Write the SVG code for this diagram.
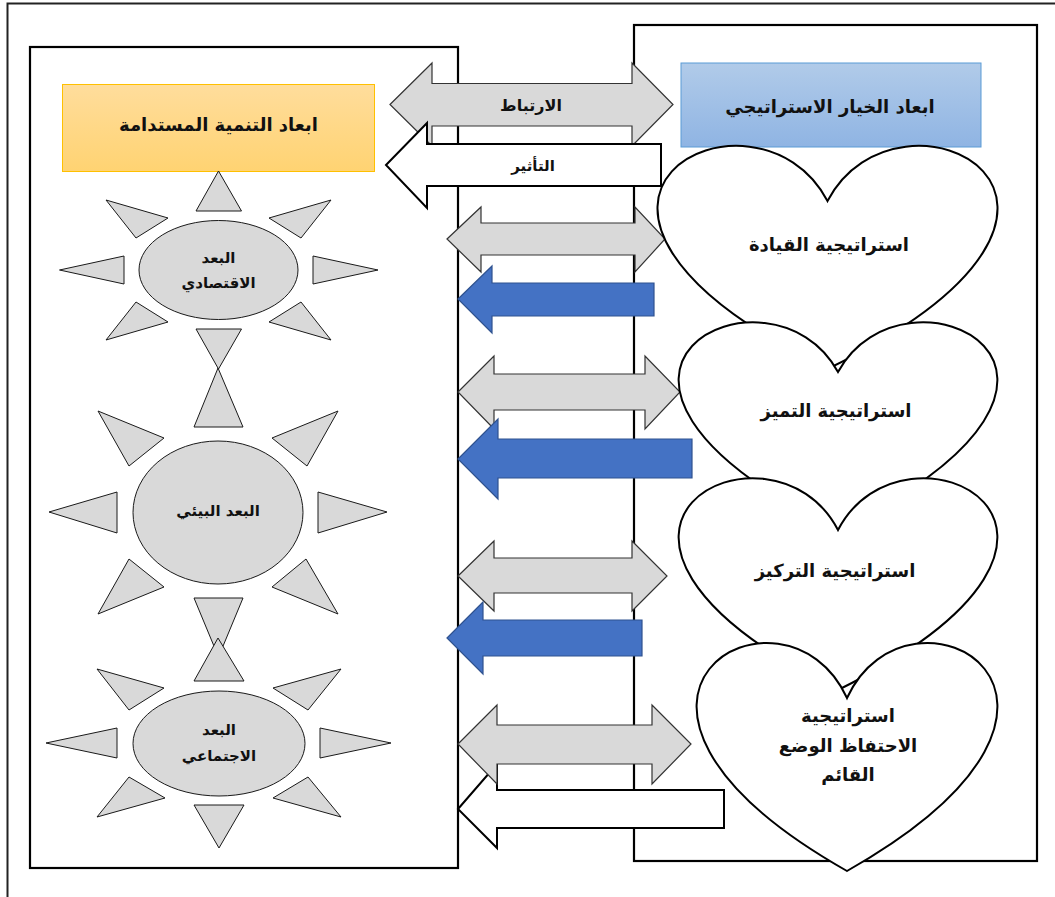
<svg xmlns="http://www.w3.org/2000/svg" width="1055" height="897" viewBox="0 0 1055 897">
<style>
.box{fill:none;stroke:#000;stroke-width:2.2}
.tri,.el{fill:#d9d9d9;stroke:#1a1a1a;stroke-width:1}
.gray{fill:#d9d9d9;stroke:#333;stroke-width:1.2}
.white{fill:#fff;stroke:#000;stroke-width:2}
.blue{fill:#4472c4;stroke:#2f528f;stroke-width:1.2}
.heart{fill:#fff;stroke:#000;stroke-width:2}
text{font-family:"DejaVu Sans",sans-serif;font-weight:bold;fill:#111;text-anchor:middle;direction:rtl}
.t1{font-size:18px}.t2{font-size:16px}.t3{font-size:15px}
</style>
<defs>
<linearGradient id="gold" x1="0" y1="0" x2="0" y2="1"><stop offset="0" stop-color="#ffdd9c"/><stop offset="1" stop-color="#ffd372"/></linearGradient>
<linearGradient id="sky" x1="0" y1="0" x2="0" y2="1"><stop offset="0" stop-color="#b1cbe9"/><stop offset="1" stop-color="#8fb4e3"/></linearGradient>
</defs>
<rect width="1055" height="897" fill="#fff"/>
<path id="frame" d="M7.5 897V3.5H1055" fill="none" stroke="#222" stroke-width="2"/>
<g id="left-panel"><rect class="box" x="30" y="47" width="428" height="821"/></g>
<g id="right-panel"><rect class="box" x="634" y="25" width="403" height="836"/></g>
<g id="node-sustain"><rect x="62.5" y="84.5" width="312" height="87" fill="url(#gold)" stroke="#ffc000" stroke-width="1"/><text class="t1" x="218.5" y="131">ابعاد التنمية المستدامة</text></g>
<g id="node-choice"><rect x="681" y="63" width="300" height="84" fill="url(#sky)" stroke="#5b9bd5" stroke-width="1"/><text class="t1" x="830" y="113">ابعاد الخيار الاستراتيجي</text></g>
<g id="node-economic">
<polygon class="tri" points="218.5,171 196,211 241.500,211"/>
<polygon class="tri" points="106,200 168,218 136,238"/>
<polygon class="tri" points="331,200 269,218 301,238"/>
<polygon class="tri" points="59.500,270 124,256 124,284"/>
<polygon class="tri" points="378,270 313,256 313,284"/>
<polygon class="tri" points="106,340 168,322 136,302"/>
<polygon class="tri" points="331,340 269,322 301,302"/>
<polygon class="tri" points="196,329 241.500,329 218.5,369"/>
<ellipse class="el" cx="218.500" cy="270" rx="79.500" ry="49.500"/>
<text class="t3" x="218.500" y="263">البعد</text><text class="t3" x="218.500" y="288">الاقتصادي</text></g>
<g id="node-environment">
<polygon class="tri" points="218,368 194,427 243,427"/>
<polygon class="tri" points="98,411 164,438 129,466"/>
<polygon class="tri" points="338,411 272,438 307,466"/>
<polygon class="tri" points="49,512 117,492 117,533"/>
<polygon class="tri" points="387,512 318,492 318,533"/>
<polygon class="tri" points="98,614 164,587 129,559"/>
<polygon class="tri" points="338,614 272,587 306,559"/>
<polygon class="tri" points="194,598 243,598 218.500,657"/>
<ellipse class="el" cx="218" cy="512.500" rx="85" ry="71.500"/>
<text class="t3" x="218" y="516">البعد البيئي</text></g>
<g id="node-social">
<polygon class="tri" points="218,638 194,681 244,681"/>
<polygon class="tri" points="97,669 164,688 129,710"/>
<polygon class="tri" points="341,669 273,688 308,710"/>
<polygon class="tri" points="46,743 117,728 117,758"/>
<polygon class="tri" points="391,743 320,728 320,758"/>
<polygon class="tri" points="97,817 165,798 129,777"/>
<polygon class="tri" points="341,817 273,798 308,777"/>
<polygon class="tri" points="194,805 244,805 219,848"/>
<ellipse class="el" cx="219" cy="743.500" rx="86" ry="52.500"/>
<text class="t3" x="219" y="735">البعد</text><text class="t3" x="219" y="761">الاجتماعي</text></g>
<g id="connectors">
<path class="gray" d="M390 104.500L432 63V83.500H632V63L673 104.500L632 146V126H432V146Z"/>
<path class="white" d="M386 165L427 123V144H661V186H427V208Z"/>
<path class="gray" d="M447 239L481 207V223H635V207L665 239L635 272V255H481V272Z"/>
<path class="blue" d="M458 299L492 266V283H654V316H492V333Z"/>
<path class="gray" d="M458 392L494 356V374H645V356L680 392L645 429V410H494V429Z"/>
<path class="blue" d="M458 459L498 419V439H692V478H498V499Z"/>
<path class="gray" d="M458 576L494 541V558H632V541L667 576L632 611V593H494V611Z"/>
<path class="blue" d="M447 638L483 602V620H642V656H483V674Z"/>
<path class="white" d="M458 809L497 764V790H724V828H497V848Z"/>
<path class="gray" d="M458 744L497 705V725H652V705L691 744L652 784V764H497V784Z"/>
<text class="t2" x="531" y="111">الارتباط</text>
<text class="t3" x="533" y="171">التأثير</text>
</g>
<g id="node-leadership"><path class="heart" d="M827.500 201C898 66 1172 201 827.500 369C483 201 757 66 827.500 201Z"/><text class="t1" x="829" y="251">استراتيجية القيادة</text></g>
<g id="node-distinction"><path class="heart" d="M838 372C904 250 1161 372 838 530C515 372 772 250 838 372Z"/><text class="t1" x="836" y="417">استراتيجية التميز</text></g>
<g id="node-focus"><path class="heart" d="M838 530C904 403 1161 530 838 690C515 530 772 403 838 530Z"/><text class="t1" x="835" y="577">استراتيجية التركيز</text></g>
<g id="node-retain"><path class="heart" d="M847 698C909 563 1152 698 847 871C542 698 785 563 847 698Z"/><text class="t1" x="848" y="722">استراتيجية</text><text class="t1" x="848" y="752">الاحتفاظ الوضع</text><text class="t1" x="848" y="781">القائم</text></g>
</svg>
